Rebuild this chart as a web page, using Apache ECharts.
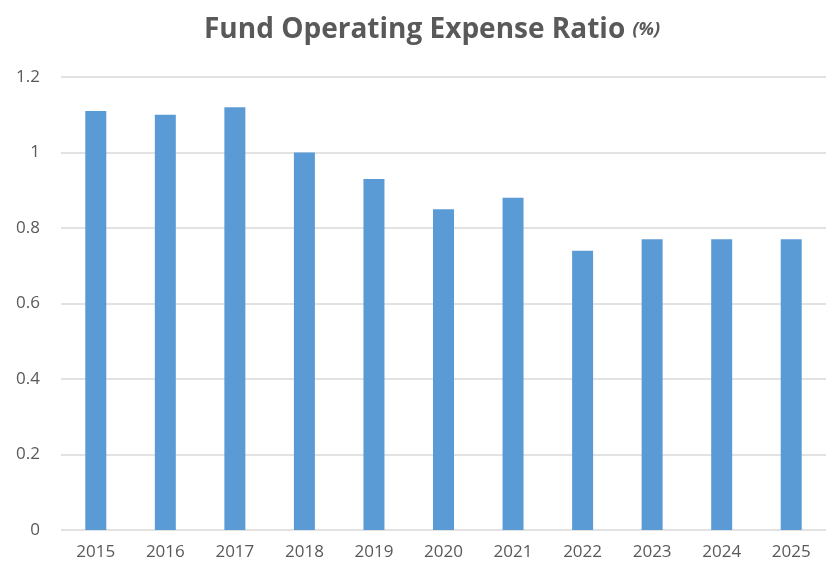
<!DOCTYPE html>
<html>
<head>
<meta charset="utf-8">
<script src="https://cdn.jsdelivr.net/npm/echarts@6/dist/echarts.min.js"></script>
<style>
  html, body { margin: 0; padding: 0; background: #fff; }
  #main { width: 826px; height: 565px; }
</style>
</head>
<body>
<div id="main"></div>
<script>
// data
var years = ['2015', '2016', '2017', '2018', '2019', '2020', '2021', '2022', '2023', '2024', '2025'];
var ratio = [1.11, 1.10, 1.12, 1.00, 0.93, 0.85, 0.88, 0.74, 0.77, 0.77, 0.77];

var myChart = echarts.init(document.getElementById('main'));
var option = {
    animation: false,
    title: {
        text: 'Fund Operating Expense Ratio {u|(%)}',
        left: 199,
        top: 11,
        textStyle: {
            fontFamily: 'Open Sans',
            fontSize: 28,
            fontWeight: 'bold',
            color: '#595959',
            rich: {
                u: { fontFamily: 'Open Sans', fontSize: 18, fontStyle: 'italic', fontWeight: 'bold', color: '#595959' }
            }
        }
    },
    grid: {
        left: 61,
        right: -10,
        top: 77,
        bottom: 35
    },
    xAxis: {
        type: 'category',
        data: years,
        axisLine: { show: false },
        axisTick: { show: false },
        axisLabel: { color: '#595959', fontFamily: 'Open Sans', fontSize: 17, margin: 14 }
    },
    yAxis: {
        type: 'value',
        min: 0,
        max: 1.2,
        interval: 0.2,
        axisLine: { show: false },
        axisTick: { show: false },
        splitLine: { lineStyle: { color: '#d9d9d9', width: 1.5 } },
        axisLabel: { color: '#595959', fontFamily: 'Open Sans', fontSize: 17, margin: 21 }
    },
    series: [{
        type: 'bar',
        data: ratio,
        barWidth: 21,
        itemStyle: { color: '#5b9bd5' }
    }]
};
myChart.setOption(option);
</script>
</body>
</html>
